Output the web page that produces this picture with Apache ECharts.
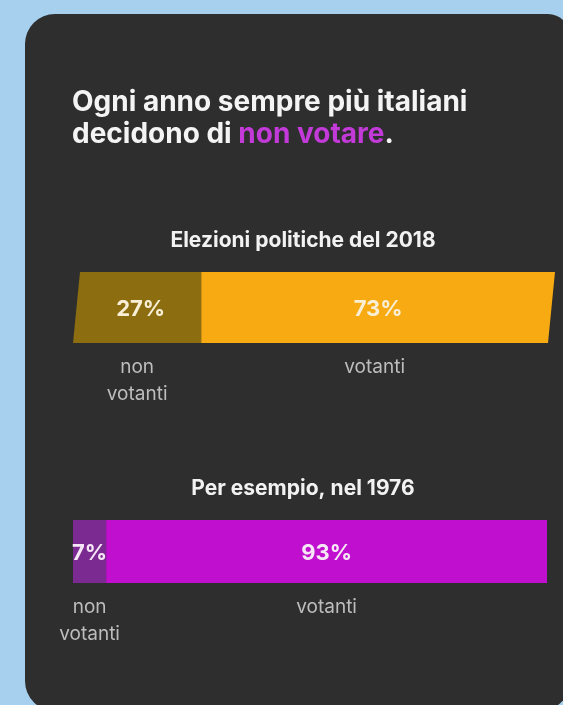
<!DOCTYPE html>
<html>
<head>
<meta charset="utf-8">
<script src="https://cdn.jsdelivr.net/npm/echarts@6/dist/echarts.min.js"></script>
<style>
  html, body { margin: 0; padding: 0; background: #a6d0ee; }
  #chart { width: 563px; height: 705px; }
</style>
</head>
<body>
<div id="chart"></div>
<script>
// Voter turnout in Italian general elections: 2018 vs 1976
const categories = ['non\nvotanti', 'votanti'];
const values2018 = [27, 73];
const values1976 = [7, 93];
const panelTitles = ['Elezioni politiche del 2018', 'Per esempio, nel 1976'];

const FONT = 'Inter, "Noto Sans", sans-serif';

// turn a list of shares into [start, value, index] rows for the stacked strip
function toRows(values) {
  let acc = 0;
  return values.map(function (v, i) {
    const row = [acc, v, i];
    acc += v;
    return row;
  });
}

function stripSeries(gridIndex, values, colors, pctColor, skew) {
  return {
    type: 'custom',
    xAxisIndex: gridIndex,
    yAxisIndex: gridIndex,
    data: toRows(values),
    renderItem: function (params, api) {
      const start = api.value(0);
      const val = api.value(1);
      const idx = api.value(2);
      const p0 = api.coord([start, 0]);
      const p1 = api.coord([start + val, 0]);
      const h = api.size([0, 1])[1];
      const top = p0[1] - h / 2;
      const bottom = p0[1] + h / 2;
      const last = idx === values.length - 1;
      const lt = idx === 0 ? p0[0] + skew : p0[0];
      const rt = last ? p1[0] + skew : p1[0];
      const cx = (p0[0] + p1[0]) / 2;
      return {
        type: 'group',
        children: [
          {
            type: 'polygon',
            shape: { points: [[lt, top], [rt, top], [p1[0], bottom], [p0[0], bottom]] },
            style: { fill: colors[idx] }
          },
          {
            type: 'text',
            z2: 10,
            style: {
              x: cx + skew / 2, y: p0[1] + 2,
              text: val + '%',
              fill: pctColor,
              font: 'bold 22px ' + FONT,
              align: 'center', verticalAlign: 'middle'
            }
          },
          {
            type: 'text',
            z2: 10,
            style: {
              x: cx, y: bottom + 11,
              text: categories[idx],
              fill: '#bdbdbd',
              font: '19px ' + FONT,
              lineHeight: 27,
              align: 'center', verticalAlign: 'top'
            }
          }
        ]
      };
    }
  };
}

const chart = echarts.init(document.getElementById('chart'), null, { renderer: 'canvas' });

chart.setOption({
  backgroundColor: '#a6d0ee',
  animation: false,
  graphic: [
    {
      type: 'rect', z: -10,
      shape: { x: 25, y: 14, width: 545, height: 697, r: [30, 22, 30, 30] },
      style: { fill: '#2e2e2e' }
    },
    {
      type: 'text',
      style: {
        x: 303, y: 241, text: panelTitles[0],
        fill: '#f2f2f2', font: 'bold 21px ' + FONT,
        align: 'center', verticalAlign: 'middle'
      }
    },
    {
      type: 'text',
      style: {
        x: 303, y: 489, text: panelTitles[1],
        fill: '#f2f2f2', font: 'bold 21px ' + FONT,
        align: 'center', verticalAlign: 'middle'
      }
    }
  ],
  title: {
    left: 67, top: 82,
    text: '{w|Ogni anno sempre più italiani}\n{w|decidono di }{m|non votare}{w|.}',
    textStyle: {
      rich: {
        w: { color: '#f4f4f4', fontSize: 28, fontWeight: 'bold', fontFamily: FONT, lineHeight: 32 },
        m: { color: '#c23ad8', fontSize: 28, fontWeight: 'bold', fontFamily: FONT, lineHeight: 32 }
      }
    }
  },
  grid: [
    { left: 73, right: 15, top: 272, height: 71 },
    { left: 73, right: 16, top: 520, height: 63 }
  ],
  xAxis: [
    { type: 'value', gridIndex: 0, min: 0, max: 100, show: false },
    { type: 'value', gridIndex: 1, min: 0, max: 100, show: false }
  ],
  yAxis: [
    { type: 'category', gridIndex: 0, data: [''], show: false },
    { type: 'category', gridIndex: 1, data: [''], show: false }
  ],
  series: [
    stripSeries(0, values2018, ['#8c6d10', '#f7aa12'], '#f8efd6', 7),
    stripSeries(1, values1976, ['#7b2a92', '#c10fd0'], '#f6e6f6', 0)
  ]
});
</script>
</body>
</html>
